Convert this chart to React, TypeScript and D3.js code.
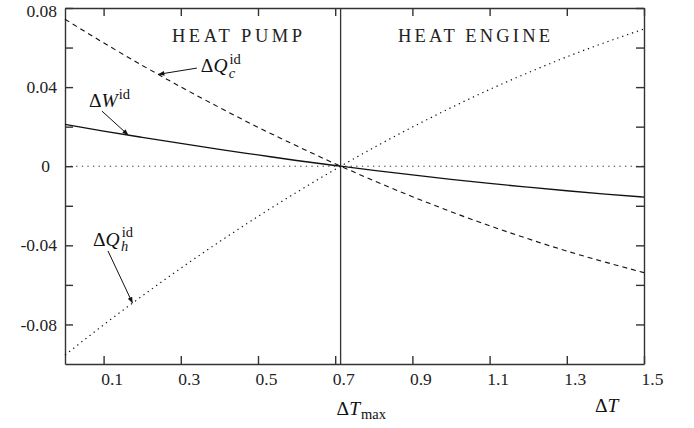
import { useEffect, useRef } from 'react';
import * as d3 from 'd3';

// values (ΔT on x, heat / work differences on y)
const deltaT = [0, 0.1, 0.2, 0.3, 0.4, 0.5, 0.6, 0.714, 0.8, 0.9, 1.0, 1.1, 1.2, 1.3, 1.4, 1.5];
const dQc = [0.0743, 0.0624, 0.051, 0.0401, 0.0297, 0.0197, 0.0103, 0, -0.0073, -0.0154, -0.023, -0.0301, -0.0367, -0.0429, -0.0485, -0.0538];
const dW = [0.0212, 0.0178, 0.0146, 0.0115, 0.0085, 0.0057, 0.0029, 0, -0.0021, -0.0044, -0.0066, -0.0087, -0.0106, -0.0124, -0.0141, -0.0156];
const dQh = [-0.0955, -0.0802, -0.0656, -0.0516, -0.0382, -0.0254, -0.0132, 0, 0.0094, 0.0198, 0.0296, 0.0388, 0.0473, 0.0553, 0.0626, 0.0694];
const dTmax = 0.714;

const xTicks = [0.1, 0.3, 0.5, 0.7, 0.9, 1.1, 1.3, 1.5];
const xTickLabels = ['0.1', '0.3', '0.5', '0.7', '0.9', '1.1', '1.3', '1.5'];
const yTicks = [0.08, 0.06, 0.04, 0.02, 0, -0.02, -0.04, -0.06, -0.08];
const yLabelValues = [0.08, 0.04, 0, -0.04, -0.08];
const yTickLabels = ['0.08', '0.04', '0', '-0.04', '-0.08'];

const FONT = "'Liberation Serif', 'DejaVu Serif', serif";

export default function App() {
    const ref = useRef<SVGSVGElement>(null);

    useEffect(() => {
        const width = 694;
        const height = 428;
        const margin = { top: 8, right: 50, bottom: 64, left: 65 };

        const x = d3.scaleLinear().domain([0, 1.5]).range([margin.left, width - margin.right]);
        const y = d3.scaleLinear().domain([-0.1, 0.08]).range([height - margin.bottom, margin.top]);

        const svg = d3.select(ref.current);
        svg.selectAll('*').remove();

        const defs = svg.append('defs');
        defs.append('marker')
            .attr('id', 'arrow')
            .attr('viewBox', '0 0 10 10')
            .attr('refX', 10)
            .attr('refY', 5)
            .attr('markerWidth', 8)
            .attr('markerHeight', 6)
            .attr('markerUnits', 'userSpaceOnUse')
            .attr('orient', 'auto')
            .append('path')
            .attr('d', 'M0,1 L10,5 L0,9 Z')
            .attr('fill', '#111');

        const styleAxis = (g: any) => {
            g.attr('font-family', FONT).attr('font-size', 17.5);
            g.selectAll('path, line').attr('stroke', '#333').attr('stroke-width', 1.4);
            g.selectAll('text').attr('fill', '#222');
        };

        // bottom and top
        svg.append('g')
            .attr('transform', `translate(0,${y(-0.1)})`)
            .call(d3.axisBottom(x).tickValues(xTicks).tickSizeInner(-8).tickSizeOuter(0).tickPadding(9)
                .tickFormat((d, i) => xTickLabels[i]))
            .call(styleAxis)
            .selectAll('text').attr('x', 8);

        svg.append('g')
            .attr('transform', `translate(0,${y(0.08)})`)
            .call(d3.axisTop(x).tickValues(xTicks).tickSizeInner(-8).tickSizeOuter(0).tickFormat(() => ''))
            .call(styleAxis);

        // left and right
        const left = svg.append('g')
            .attr('transform', `translate(${x(0)},0)`)
            .call(d3.axisLeft(y).tickValues(yTicks).tickSizeInner(-8).tickSizeOuter(0).tickPadding(8)
                .tickFormat(d => {
                    const k = yLabelValues.findIndex(v => Math.abs(v - (d as number)) < 1e-9);
                    return k >= 0 ? yTickLabels[k] : '';
                }))
            .call(styleAxis);
        left.selectAll('text').filter((d: any) => d === 0).attr('x', -15);
        left.selectAll('text').filter((d: any) => d === 0.08).attr('y', 2.5);

        svg.append('g')
            .attr('transform', `translate(${x(1.5)},0)`)
            .call(d3.axisRight(y).tickValues(yTicks).tickSizeInner(-8).tickSizeOuter(0).tickFormat(() => ''))
            .call(styleAxis);

        // zero line and ΔTmax divider
        svg.append('line')
            .attr('x1', x(0)).attr('x2', x(1.5))
            .attr('y1', y(0)).attr('y2', y(0))
            .attr('stroke', '#333').attr('stroke-width', 1)
            .attr('stroke-dasharray', '1.3 4.3');

        svg.append('line')
            .attr('x1', x(dTmax)).attr('x2', x(dTmax))
            .attr('y1', y(0.08)).attr('y2', y(-0.1))
            .attr('stroke', '#333').attr('stroke-width', 1.3);

        const line = d3.line<number>()
            .x((d, i) => x(deltaT[i]))
            .y(d => y(d))
            .curve(d3.curveMonotoneX);

        const series = [
            { values: dQc, dash: '5 4', width: 1.1 },
            { values: dW, dash: null, width: 1.3 },
            { values: dQh, dash: '1.3 3.9', width: 1.2 },
        ];
        series.forEach(s => {
            svg.append('path')
                .attr('d', line(s.values))
                .attr('fill', 'none')
                .attr('stroke', '#111')
                .attr('stroke-width', s.width)
                .attr('stroke-dasharray', s.dash);
        });

        // region titles
        svg.append('text')
            .attr('x', 172).attr('y', 42)
            .attr('font-family', FONT).attr('font-size', 18.5).attr('fill', '#222')
            .attr('textLength', 130).attr('lengthAdjust', 'spacing')
            .text('HEAT PUMP');
        svg.append('text')
            .attr('x', 398).attr('y', 42)
            .attr('font-family', FONT).attr('font-size', 18.5).attr('fill', '#222')
            .attr('textLength', 152).attr('lengthAdjust', 'spacing')
            .text('HEAT ENGINE');

        // labels with arrows pointing at the curves
        const notes = [
            { base: 'Q', sub: 'c', lx: 0.352, ly: 0.0476, from: [-4, -4], tip: 0.2417, values: dQc },
            { base: 'W', sub: '', lx: 0.062, ly: 0.0299, from: [13, 4], tip: 0.164, values: dW },
            { base: 'Q', sub: 'h', lx: 0.0725, ly: -0.0403, from: [15, 5], tip: 0.175, values: dQh },
        ];
        notes.forEach(n => {
            const px = x(n.lx);
            const py = y(n.ly);
            const t = svg.append('text')
                .attr('x', px).attr('y', py)
                .attr('font-family', FONT).attr('font-size', 19.5).attr('fill', '#111');
            t.append('tspan').text('Δ');
            t.append('tspan').attr('font-style', 'italic').text(n.base);
            t.append('tspan').attr('font-size', 14.5).attr('dy', -8.5).attr('dx', n.base === 'W' ? 1 : 2).text('id');
            if (n.sub) {
                t.append('tspan').attr('font-size', 14.5).attr('font-style', 'italic')
                    .attr('dx', -12).attr('dy', 14).text(n.sub);
            }
            const interp = d3.scaleLinear().domain(deltaT).range(n.values);
            const tx = x(n.tip);
            const ty = y(interp(n.tip));
            svg.append('line')
                .attr('x1', px + n.from[0]).attr('y1', py + n.from[1])
                .attr('x2', tx).attr('y2', ty)
                .attr('stroke', '#111').attr('stroke-width', 1)
                .attr('marker-end', 'url(#arrow)');
        });

        // x-axis side labels
        const tm = svg.append('text')
            .attr('x', x(dTmax) - 4).attr('y', 415)
            .attr('font-family', FONT).attr('font-size', 19.5).attr('fill', '#111');
        tm.append('tspan').text('Δ');
        tm.append('tspan').attr('font-style', 'italic').text('T');
        tm.append('tspan').attr('font-size', 14.5).attr('dy', 4).attr('dx', 1).text('max');

        const tl = svg.append('text')
            .attr('x', 595).attr('y', 412)
            .attr('font-family', FONT).attr('font-size', 19.5).attr('fill', '#111');
        tl.append('tspan').text('Δ');
        tl.append('tspan').attr('font-style', 'italic').text('T');

        return () => {
            d3.select(ref.current).selectAll('*').remove();
        };
    });

    return (
        <svg ref={ref} width={694} height={428}
            style={{ position: 'absolute', left: 0, top: 0, background: '#fff' }} />
    );
}
